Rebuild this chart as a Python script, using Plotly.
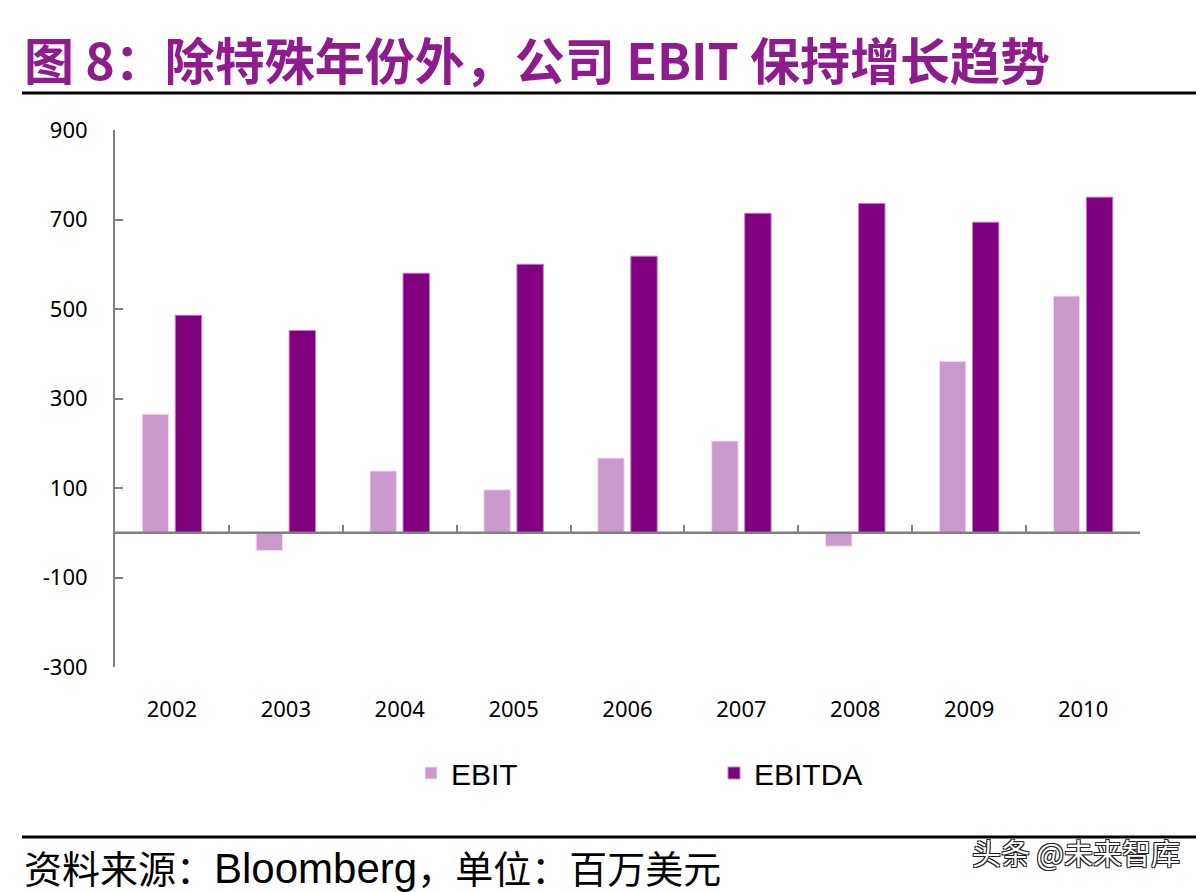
import plotly.graph_objects as go

# Data (USD mn)
years = ["2002", "2003", "2004", "2005", "2006", "2007", "2008", "2009", "2010"]
ebit = [265, -40, 138, 96, 167, 205, -30, 383, 529]
ebitda = [486, 452, 580, 600, 618, 714, 736, 694, 750]
y_ticks = [900, 700, 500, 300, 100, -100, -300]
y_labels = ["900", "700", "500", "300", "100", "-100", "-300"]

EBIT_COLOR = "#CC99CC"
EBITDA_COLOR = "#800080"
AXIS_GREY = "#808080"

# page geometry (the browser body adds an 8px offset)
W, H = 1204, 892
OFF = 8
L, R, T, B = 107, 72, 122, 233
pw, ph = W - L - R, H - T - B


def px(x):
    return ((x - OFF) - L) / pw


def py(y):
    return 1 - ((y - OFF) - T) / ph


fig = go.Figure()
fig.add_bar(x=years, y=ebit, name="EBIT", marker_color=EBIT_COLOR,
            marker_line=dict(color="#F2E0F2", width=1))
fig.add_bar(x=years, y=ebitda, name="EBITDA", marker_color=EBITDA_COLOR,
            marker_line=dict(color="#C080C0", width=1))

# helper trace on xaxis2 so the category axis line + ticks sit at y=0
fig.add_scatter(x=[-0.5, 8.5], y=[0, 0], xaxis="x2", mode="lines",
                line=dict(color=AXIS_GREY, width=2.5),
                showlegend=False, hoverinfo="skip")

fig.update_layout(
    width=W, height=H,
    margin=dict(l=L, r=R, t=T, b=B),
    paper_bgcolor="white", plot_bgcolor="white",
    barmode="group", bargap=0.42, bargroupgap=0.2,
    font=dict(family="Noto Sans", color="black"),
    xaxis=dict(
        type="category", showline=False, ticks="", showgrid=False,
        tickfont=dict(family="Noto Sans", size=22),
        ticklabelstandoff=27,
    ),
    xaxis2=dict(
        overlaying="x", anchor="free", position=0.25,
        range=[-0.5, 8.5], tickmode="linear", tick0=-0.5, dtick=1,
        ticks="inside", ticklen=8, tickwidth=2, tickcolor=AXIS_GREY,
        showticklabels=False, showgrid=False, showline=False, zeroline=False,
    ),
    yaxis=dict(
        range=[-300, 900], tickvals=y_ticks, ticktext=y_labels,
        showgrid=False, zeroline=False,
        showline=True, linecolor=AXIS_GREY, linewidth=2,
        ticks="inside", ticklen=8, tickwidth=2, tickcolor=AXIS_GREY,
        tickfont=dict(family="Noto Sans", size=22),
        ticklabelstandoff=21,
    ),
    legend=dict(
        orientation="h", x=px(411), xanchor="left", y=py(773), yanchor="middle",
        font=dict(family="Liberation Sans", size=30),
        itemwidth=30, traceorder="normal", entrywidthmode="pixels", entrywidth=258,
    ),
)

# title, source note and watermark
fig.add_annotation(
    x=px(22), y=py(58), xref="paper", yref="paper",
    text="<b>图 8：除特殊年份外，公司 EBIT 保持增长趋势</b>",
    showarrow=False, xanchor="left", yanchor="middle",
    font=dict(family="Noto Sans CJK SC", size=50, color="#8E1C8C"),
)
fig.add_annotation(
    x=px(22), y=py(866), xref="paper", yref="paper",
    text="资料来源：<span style='font-family:Liberation Sans;font-size:42px'>Bloomberg</span>，单位：百万美元",
    showarrow=False, xanchor="left", yanchor="middle",
    font=dict(family="Noto Sans CJK SC", size=38, color="black"),
)
fig.add_annotation(
    x=px(1182), y=py(852), xref="paper", yref="paper", text="头条 @未来智库",
    showarrow=False, xanchor="right", yanchor="middle",
    font=dict(family="Noto Sans CJK SC", size=29, color="white",
              shadow="-1px -1px 0 #222, 1px -1px 0 #222, -1px 1px 0 #222, 1px 1px 0 #222"),
)

# black rules under the title and above the source
for y_rule in (93, 837):
    fig.add_shape(type="line", xref="paper", yref="paper",
                  x0=px(22), x1=px(W + 10), y0=py(y_rule), y1=py(y_rule),
                  line=dict(color="black", width=3))

fig.write_html("out.html")
